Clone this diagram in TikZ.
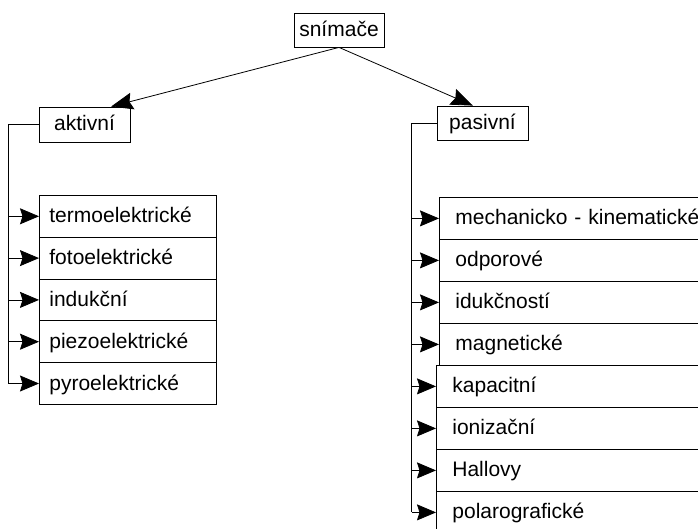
\documentclass[tikz,border=0pt]{standalone}
\usepackage{fontspec}
\setmainfont{Liberation Sans}
\usetikzlibrary{arrows.meta,calc}
\begin{document}
\begin{tikzpicture}[x=1pt,y=-1pt,
  font=\fontsize{21}{25}\selectfont,
  box/.style={draw, line width=0.8pt, inner sep=0pt, text height=15pt, text depth=2pt},
  litem/.style={box, anchor=north west, minimum height=41.8pt, text width=157pt,
    inner xsep=10pt, align=left},
  ritem/.style={box, anchor=north west, minimum height=42pt, text width=262pt,
    inner xsep=16pt, align=left},
  conn/.style={line width=0.8pt},
  arr/.style={conn, -{Stealth[length=19pt,width=16pt,inset=2.5pt]}},
  bigarr/.style={conn, -{Stealth[length=22pt,width=17pt,inset=3pt]}}]
\useasboundingbox (0,0) rectangle (698,529);
\clip (0,0) rectangle (698,529);

% top level
\node[box, minimum width=90pt, minimum height=34pt] (snim) at (339,30) {snímače};
\node[box, minimum width=91pt, minimum height=35pt] (akt) at (84.5,124.5) {aktivní};
\node[box, minimum width=91pt, minimum height=34pt] (pas) at (482.5,123) {pasivní};
\draw[bigarr] (snim.south) -- (akt.34.5);
\draw[bigarr] (snim.south) -- (pas.119);

% active sensors
\node[litem] (l1) at (39,195)   {termoelektrické};
\node[litem] (l2) at (39,236.8) {fotoelektrické};
\node[litem] (l3) at (39,278.6) {indukční};
\node[litem] (l4) at (39,320.4) {piezoelektrické};
\node[litem] (l5) at (39,362.2) {pyroelektrické};

\coordinate (lbus) at ($(akt.west)+(-30,0)$);
\draw[conn] (akt.west) -- (lbus) -- (lbus |- l5.west);
\foreach \n in {l1,l2,l3,l4,l5}
  \draw[arr] (lbus |- \n.west) -- (\n.west);

% passive sensors
\node[ritem] (r1) at (439,197) {mechanicko - kinematické};
\node[ritem] (r2) at (439,239) {odporové};
\node[ritem] (r3) at (439,281) {idukčností};
\node[ritem] (r4) at (439,323) {magnetické};
\node[ritem] (r5) at (436,365) {kapacitní};
\node[ritem] (r6) at (436,407) {ionizační};
\node[ritem] (r7) at (436,449) {Hallovy};
\node[ritem] (r8) at (436,491) {polarografické};

\coordinate (rbus) at ($(pas.west)+(-25,0)$);
\draw[conn] (pas.west) -- (rbus) -- (rbus |- r8.west);
\foreach \n in {r1,r2,r3,r4,r5,r6,r7,r8}
  \draw[arr] (rbus |- \n.west) -- (\n.west);
\end{tikzpicture}
\end{document}
